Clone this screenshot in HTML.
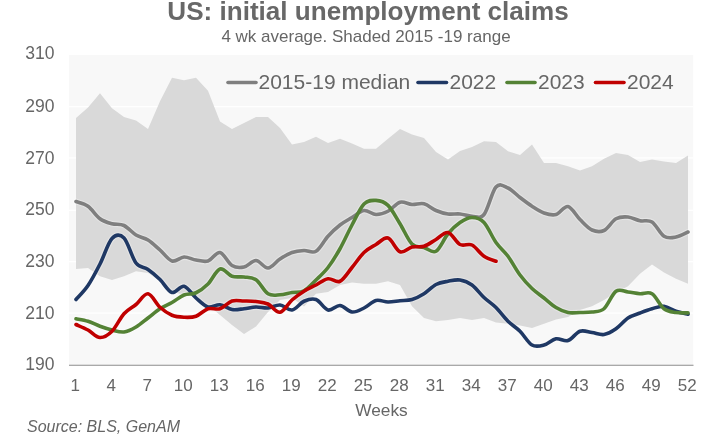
<!DOCTYPE html>
<html><head><meta charset="utf-8"><style>
html,body{margin:0;padding:0;background:#fff;}
body{width:727px;height:444px;overflow:hidden;font-family:"Liberation Sans",sans-serif;}
svg{display:block;will-change:transform;filter:grayscale(0)}
text{font-family:"Liberation Sans",sans-serif;fill:#666666}
.ax{font-size:17px}
.ay{font-size:17.5px}
.lg{font-size:21px}
</style></head><body>
<svg width="727" height="444" viewBox="0 0 727 444">
<rect x="0" y="0" width="727" height="444" fill="#ffffff"/>
<text x="167.3" y="19.5" font-size="25" font-weight="bold" textLength="401.5" style="fill:#686868" lengthAdjust="spacingAndGlyphs">US: initial unemployment claims</text>
<text x="366" y="42.2" text-anchor="middle" font-size="17">4 wk average. Shaded 2015 -19 range</text>
<rect x="68.9" y="55" width="624.3" height="310.3" fill="#f8f8f8"/>
<line x1="69" x2="693" y1="106.60" y2="106.60" stroke="#ffffff" stroke-width="1.2"/><line x1="69" x2="693" y1="157.90" y2="157.90" stroke="#ffffff" stroke-width="1.2"/><line x1="69" x2="693" y1="210.30" y2="210.30" stroke="#ffffff" stroke-width="1.2"/><line x1="69" x2="693" y1="261.60" y2="261.60" stroke="#ffffff" stroke-width="1.2"/><line x1="69" x2="693" y1="313.10" y2="313.10" stroke="#ffffff" stroke-width="1.2"/>
<path d="M76.00,118.00 L88.00,107.50 L100.00,93.25 L112.00,108.25 L124.00,117.00 L136.00,120.50 L148.00,129.00 L160.00,101.25 L172.00,77.75 L184.00,80.25 L196.00,77.75 L208.00,90.75 L220.00,121.50 L232.00,129.00 L244.00,123.00 L256.00,117.00 L268.00,117.00 L280.00,128.00 L292.00,144.50 L304.00,142.00 L316.00,136.75 L328.00,143.00 L340.00,138.75 L352.00,143.50 L364.00,148.75 L376.00,148.75 L388.00,138.75 L400.00,129.00 L412.00,134.50 L424.00,138.00 L436.00,152.00 L448.00,159.50 L460.00,151.00 L472.00,147.00 L484.00,141.25 L496.00,142.00 L508.00,151.25 L520.00,155.00 L532.00,144.50 L544.00,163.00 L556.00,163.00 L568.00,166.25 L580.00,170.50 L592.00,166.25 L604.00,158.75 L616.00,153.00 L628.00,155.00 L640.00,162.00 L652.00,159.50 L664.00,161.50 L676.00,163.00 L688.00,155.50 L688.00,283.75 L676.00,278.75 L664.00,272.50 L652.00,264.50 L640.00,273.75 L628.00,286.25 L616.00,292.50 L604.00,300.00 L592.00,306.25 L580.00,310.00 L568.00,317.00 L556.00,319.50 L544.00,323.75 L532.00,328.00 L520.00,325.50 L508.00,323.75 L496.00,322.50 L484.00,318.00 L472.00,320.00 L460.00,318.00 L448.00,320.00 L436.00,321.25 L424.00,318.00 L412.00,306.25 L400.00,285.00 L388.00,281.25 L376.00,283.75 L364.00,283.75 L352.00,282.50 L340.00,285.00 L328.00,292.00 L316.00,293.75 L304.00,306.50 L292.00,298.00 L280.00,300.00 L268.00,312.00 L256.00,326.50 L244.00,334.00 L232.00,325.00 L220.00,315.00 L208.00,305.00 L196.00,297.00 L184.00,294.50 L172.00,292.00 L160.00,281.00 L148.00,273.00 L136.00,271.25 L124.00,276.25 L112.00,280.00 L100.00,276.25 L88.00,268.00 L76.00,269.00 Z" fill="#d9d9d9"/>
<line x1="69" x2="693.5" y1="365.3" y2="365.3" stroke="#8c8c8c" stroke-width="1.1"/>
<g fill="none" stroke-width="5.8" stroke-linecap="round" stroke-linejoin="round" stroke="#ffffff" opacity="0.3">
<path d="M76.00,201.50 C78.00,202.29 84.00,203.38 88.00,206.25 C92.00,209.12 96.00,215.83 100.00,218.75 C104.00,221.67 108.00,222.62 112.00,223.75 C116.00,224.88 120.00,223.62 124.00,225.50 C128.00,227.38 132.00,232.58 136.00,235.00 C140.00,237.42 144.00,237.50 148.00,240.00 C152.00,242.50 156.00,246.50 160.00,250.00 C164.00,253.50 168.00,259.83 172.00,261.00 C176.00,262.17 180.00,257.17 184.00,257.00 C188.00,256.83 192.00,259.33 196.00,260.00 C200.00,260.67 204.00,262.25 208.00,261.00 C212.00,259.75 216.00,251.75 220.00,252.50 C224.00,253.25 228.00,263.08 232.00,265.50 C236.00,267.92 240.00,267.83 244.00,267.00 C248.00,266.17 252.00,260.33 256.00,260.50 C260.00,260.67 264.00,268.25 268.00,268.00 C272.00,267.75 276.00,261.58 280.00,259.00 C284.00,256.42 288.00,253.92 292.00,252.50 C296.00,251.08 300.00,250.71 304.00,250.50 C308.00,250.29 312.00,253.62 316.00,251.25 C320.00,248.88 324.00,240.62 328.00,236.25 C332.00,231.88 336.00,228.12 340.00,225.00 C344.00,221.88 348.00,219.92 352.00,217.50 C356.00,215.08 360.00,211.00 364.00,210.50 C368.00,210.00 372.00,214.38 376.00,214.50 C380.00,214.62 384.00,213.29 388.00,211.25 C392.00,209.21 396.00,203.38 400.00,202.25 C404.00,201.12 408.00,204.25 412.00,204.50 C416.00,204.75 420.00,202.75 424.00,203.75 C428.00,204.75 432.00,208.79 436.00,210.50 C440.00,212.21 444.00,213.42 448.00,214.00 C452.00,214.58 456.00,213.62 460.00,214.00 C464.00,214.38 468.00,216.17 472.00,216.25 C476.00,216.33 480.00,219.38 484.00,214.50 C488.00,209.62 492.00,191.42 496.00,187.00 C500.00,182.58 504.00,186.25 508.00,188.00 C512.00,189.75 516.00,194.46 520.00,197.50 C524.00,200.54 528.00,203.67 532.00,206.25 C536.00,208.83 540.00,211.62 544.00,213.00 C548.00,214.38 552.00,215.58 556.00,214.50 C560.00,213.42 564.00,205.67 568.00,206.50 C572.00,207.33 576.00,215.58 580.00,219.50 C584.00,223.42 588.00,228.17 592.00,230.00 C596.00,231.83 600.00,232.38 604.00,230.50 C608.00,228.62 612.00,221.00 616.00,218.75 C620.00,216.50 624.00,216.67 628.00,217.00 C632.00,217.33 636.00,219.92 640.00,220.75 C644.00,221.58 648.00,219.42 652.00,222.00 C656.00,224.58 660.00,233.75 664.00,236.25 C668.00,238.75 672.00,237.71 676.00,237.00 C680.00,236.29 686.00,232.83 688.00,232.00"/><path d="M76.00,299.50 C78.00,297.17 84.00,291.42 88.00,285.50 C92.00,279.58 96.00,271.83 100.00,264.00 C104.00,256.17 108.00,242.83 112.00,238.50 C116.00,234.17 120.00,233.92 124.00,238.00 C128.00,242.08 132.00,257.75 136.00,263.00 C140.00,268.25 144.00,266.75 148.00,269.50 C152.00,272.25 156.00,275.67 160.00,279.50 C164.00,283.33 168.00,291.38 172.00,292.50 C176.00,293.62 180.00,285.33 184.00,286.25 C188.00,287.17 192.00,294.54 196.00,298.00 C200.00,301.46 204.00,305.88 208.00,307.00 C212.00,308.12 216.00,304.33 220.00,304.75 C224.00,305.17 228.00,308.83 232.00,309.50 C236.00,310.17 240.00,309.17 244.00,308.75 C248.00,308.33 252.00,307.12 256.00,307.00 C260.00,306.88 264.00,308.33 268.00,308.00 C272.00,307.67 276.00,304.67 280.00,305.00 C284.00,305.33 288.00,310.62 292.00,310.00 C296.00,309.38 300.00,303.00 304.00,301.25 C308.00,299.50 312.00,298.04 316.00,299.50 C320.00,300.96 324.00,309.00 328.00,310.00 C332.00,311.00 336.00,305.17 340.00,305.50 C344.00,305.83 348.00,311.58 352.00,312.00 C356.00,312.42 360.00,309.92 364.00,308.00 C368.00,306.08 372.00,301.50 376.00,300.50 C380.00,299.50 384.00,301.96 388.00,302.00 C392.00,302.04 396.00,301.17 400.00,300.75 C404.00,300.33 408.00,300.67 412.00,299.50 C416.00,298.33 420.00,296.25 424.00,293.75 C428.00,291.25 432.00,286.58 436.00,284.50 C440.00,282.42 444.00,282.00 448.00,281.25 C452.00,280.50 456.00,279.38 460.00,280.00 C464.00,280.62 468.00,282.08 472.00,285.00 C476.00,287.92 480.00,293.75 484.00,297.50 C488.00,301.25 492.00,303.54 496.00,307.50 C500.00,311.46 504.00,317.29 508.00,321.25 C512.00,325.21 516.00,327.29 520.00,331.25 C524.00,335.21 528.00,342.71 532.00,345.00 C536.00,347.29 540.00,346.04 544.00,345.00 C548.00,343.96 552.00,339.50 556.00,338.75 C560.00,338.00 564.00,341.75 568.00,340.50 C572.00,339.25 576.00,332.58 580.00,331.25 C584.00,329.92 588.00,331.96 592.00,332.50 C596.00,333.04 600.00,335.12 604.00,334.50 C608.00,333.88 612.00,331.50 616.00,328.75 C620.00,326.00 624.00,320.62 628.00,318.00 C632.00,315.38 636.00,314.54 640.00,313.00 C644.00,311.46 648.00,309.88 652.00,308.75 C656.00,307.62 660.00,305.83 664.00,306.25 C668.00,306.67 672.00,309.93 676.00,311.25 C680.00,312.57 686.00,313.71 688.00,314.20"/><path d="M76.00,318.75 C78.00,319.17 84.00,320.00 88.00,321.25 C92.00,322.50 96.00,324.79 100.00,326.25 C104.00,327.71 108.00,329.04 112.00,330.00 C116.00,330.96 120.00,332.50 124.00,332.00 C128.00,331.50 132.00,329.33 136.00,327.00 C140.00,324.67 144.00,321.04 148.00,318.00 C152.00,314.96 156.00,311.33 160.00,308.75 C164.00,306.17 168.00,304.79 172.00,302.50 C176.00,300.21 180.00,296.62 184.00,295.00 C188.00,293.38 192.00,294.58 196.00,292.75 C200.00,290.92 204.00,287.96 208.00,284.00 C212.00,280.04 216.00,270.29 220.00,269.00 C224.00,267.71 228.00,274.92 232.00,276.25 C236.00,277.58 240.00,276.42 244.00,277.00 C248.00,277.58 252.00,276.96 256.00,279.75 C260.00,282.54 264.00,291.25 268.00,293.75 C272.00,296.25 276.00,294.96 280.00,294.75 C284.00,294.54 288.00,293.17 292.00,292.50 C296.00,291.83 300.00,292.83 304.00,290.75 C308.00,288.67 312.00,283.88 316.00,280.00 C320.00,276.12 324.00,272.71 328.00,267.50 C332.00,262.29 336.00,255.83 340.00,248.75 C344.00,241.67 348.00,232.46 352.00,225.00 C356.00,217.54 360.00,208.10 364.00,204.00 C368.00,199.90 372.00,200.17 376.00,200.40 C380.00,200.63 384.00,201.51 388.00,205.40 C392.00,209.29 396.00,217.32 400.00,223.75 C404.00,230.18 408.00,240.04 412.00,244.00 C416.00,247.96 420.00,246.29 424.00,247.50 C428.00,248.71 432.00,253.54 436.00,251.25 C440.00,248.96 444.00,238.54 448.00,233.75 C452.00,228.96 456.00,225.21 460.00,222.50 C464.00,219.79 468.00,217.50 472.00,217.50 C476.00,217.50 480.00,218.33 484.00,222.50 C488.00,226.67 492.00,236.88 496.00,242.50 C500.00,248.12 504.00,250.83 508.00,256.25 C512.00,261.67 516.00,269.62 520.00,275.00 C524.00,280.38 528.00,284.67 532.00,288.50 C536.00,292.33 540.00,294.83 544.00,298.00 C548.00,301.17 552.00,305.08 556.00,307.50 C560.00,309.92 564.00,311.67 568.00,312.50 C572.00,313.33 576.00,312.58 580.00,312.50 C584.00,312.42 588.00,312.62 592.00,312.00 C596.00,311.38 600.00,312.21 604.00,308.75 C608.00,305.29 612.00,294.04 616.00,291.25 C620.00,288.46 624.00,291.58 628.00,292.00 C632.00,292.42 636.00,293.46 640.00,293.75 C644.00,294.04 648.00,291.25 652.00,293.75 C656.00,296.25 660.00,305.62 664.00,308.75 C668.00,311.88 672.00,311.81 676.00,312.50 C680.00,313.19 686.00,312.83 688.00,312.90"/><path d="M76.00,324.50 C78.00,325.42 84.00,327.83 88.00,330.00 C92.00,332.17 96.00,337.29 100.00,337.50 C104.00,337.71 108.00,335.21 112.00,331.25 C116.00,327.29 120.00,318.21 124.00,313.75 C128.00,309.29 132.00,307.83 136.00,304.50 C140.00,301.17 144.00,293.29 148.00,293.75 C152.00,294.21 156.00,303.67 160.00,307.25 C164.00,310.83 168.00,313.58 172.00,315.25 C176.00,316.92 180.00,317.08 184.00,317.25 C188.00,317.42 192.00,317.67 196.00,316.25 C200.00,314.83 204.00,310.00 208.00,308.75 C212.00,307.50 216.00,310.04 220.00,308.75 C224.00,307.46 228.00,302.29 232.00,301.00 C236.00,299.71 240.00,300.92 244.00,301.00 C248.00,301.08 252.00,301.00 256.00,301.50 C260.00,302.00 264.00,302.21 268.00,304.00 C272.00,305.79 276.00,312.92 280.00,312.25 C284.00,311.58 288.00,303.50 292.00,300.00 C296.00,296.50 300.00,293.75 304.00,291.25 C308.00,288.75 312.00,287.08 316.00,285.00 C320.00,282.92 324.00,279.38 328.00,278.75 C332.00,278.12 336.00,283.12 340.00,281.25 C344.00,279.38 348.00,272.29 352.00,267.50 C356.00,262.71 360.00,256.33 364.00,252.50 C368.00,248.67 372.00,246.92 376.00,244.50 C380.00,242.08 384.00,236.79 388.00,238.00 C392.00,239.21 396.00,250.25 400.00,251.75 C404.00,253.25 408.00,247.92 412.00,247.00 C416.00,246.08 420.00,247.50 424.00,246.25 C428.00,245.00 432.00,241.79 436.00,239.50 C440.00,237.21 444.00,231.67 448.00,232.50 C452.00,233.33 456.00,242.42 460.00,244.50 C464.00,246.58 468.00,243.04 472.00,245.00 C476.00,246.96 480.00,253.54 484.00,256.25 C488.00,258.96 494.00,260.42 496.00,261.25"/>
</g>
<g fill="none" stroke-width="3.6" stroke-linecap="round" stroke-linejoin="round">
<path d="M76.00,201.50 C78.00,202.29 84.00,203.38 88.00,206.25 C92.00,209.12 96.00,215.83 100.00,218.75 C104.00,221.67 108.00,222.62 112.00,223.75 C116.00,224.88 120.00,223.62 124.00,225.50 C128.00,227.38 132.00,232.58 136.00,235.00 C140.00,237.42 144.00,237.50 148.00,240.00 C152.00,242.50 156.00,246.50 160.00,250.00 C164.00,253.50 168.00,259.83 172.00,261.00 C176.00,262.17 180.00,257.17 184.00,257.00 C188.00,256.83 192.00,259.33 196.00,260.00 C200.00,260.67 204.00,262.25 208.00,261.00 C212.00,259.75 216.00,251.75 220.00,252.50 C224.00,253.25 228.00,263.08 232.00,265.50 C236.00,267.92 240.00,267.83 244.00,267.00 C248.00,266.17 252.00,260.33 256.00,260.50 C260.00,260.67 264.00,268.25 268.00,268.00 C272.00,267.75 276.00,261.58 280.00,259.00 C284.00,256.42 288.00,253.92 292.00,252.50 C296.00,251.08 300.00,250.71 304.00,250.50 C308.00,250.29 312.00,253.62 316.00,251.25 C320.00,248.88 324.00,240.62 328.00,236.25 C332.00,231.88 336.00,228.12 340.00,225.00 C344.00,221.88 348.00,219.92 352.00,217.50 C356.00,215.08 360.00,211.00 364.00,210.50 C368.00,210.00 372.00,214.38 376.00,214.50 C380.00,214.62 384.00,213.29 388.00,211.25 C392.00,209.21 396.00,203.38 400.00,202.25 C404.00,201.12 408.00,204.25 412.00,204.50 C416.00,204.75 420.00,202.75 424.00,203.75 C428.00,204.75 432.00,208.79 436.00,210.50 C440.00,212.21 444.00,213.42 448.00,214.00 C452.00,214.58 456.00,213.62 460.00,214.00 C464.00,214.38 468.00,216.17 472.00,216.25 C476.00,216.33 480.00,219.38 484.00,214.50 C488.00,209.62 492.00,191.42 496.00,187.00 C500.00,182.58 504.00,186.25 508.00,188.00 C512.00,189.75 516.00,194.46 520.00,197.50 C524.00,200.54 528.00,203.67 532.00,206.25 C536.00,208.83 540.00,211.62 544.00,213.00 C548.00,214.38 552.00,215.58 556.00,214.50 C560.00,213.42 564.00,205.67 568.00,206.50 C572.00,207.33 576.00,215.58 580.00,219.50 C584.00,223.42 588.00,228.17 592.00,230.00 C596.00,231.83 600.00,232.38 604.00,230.50 C608.00,228.62 612.00,221.00 616.00,218.75 C620.00,216.50 624.00,216.67 628.00,217.00 C632.00,217.33 636.00,219.92 640.00,220.75 C644.00,221.58 648.00,219.42 652.00,222.00 C656.00,224.58 660.00,233.75 664.00,236.25 C668.00,238.75 672.00,237.71 676.00,237.00 C680.00,236.29 686.00,232.83 688.00,232.00" stroke="#7f7f7f"/>
<path d="M76.00,299.50 C78.00,297.17 84.00,291.42 88.00,285.50 C92.00,279.58 96.00,271.83 100.00,264.00 C104.00,256.17 108.00,242.83 112.00,238.50 C116.00,234.17 120.00,233.92 124.00,238.00 C128.00,242.08 132.00,257.75 136.00,263.00 C140.00,268.25 144.00,266.75 148.00,269.50 C152.00,272.25 156.00,275.67 160.00,279.50 C164.00,283.33 168.00,291.38 172.00,292.50 C176.00,293.62 180.00,285.33 184.00,286.25 C188.00,287.17 192.00,294.54 196.00,298.00 C200.00,301.46 204.00,305.88 208.00,307.00 C212.00,308.12 216.00,304.33 220.00,304.75 C224.00,305.17 228.00,308.83 232.00,309.50 C236.00,310.17 240.00,309.17 244.00,308.75 C248.00,308.33 252.00,307.12 256.00,307.00 C260.00,306.88 264.00,308.33 268.00,308.00 C272.00,307.67 276.00,304.67 280.00,305.00 C284.00,305.33 288.00,310.62 292.00,310.00 C296.00,309.38 300.00,303.00 304.00,301.25 C308.00,299.50 312.00,298.04 316.00,299.50 C320.00,300.96 324.00,309.00 328.00,310.00 C332.00,311.00 336.00,305.17 340.00,305.50 C344.00,305.83 348.00,311.58 352.00,312.00 C356.00,312.42 360.00,309.92 364.00,308.00 C368.00,306.08 372.00,301.50 376.00,300.50 C380.00,299.50 384.00,301.96 388.00,302.00 C392.00,302.04 396.00,301.17 400.00,300.75 C404.00,300.33 408.00,300.67 412.00,299.50 C416.00,298.33 420.00,296.25 424.00,293.75 C428.00,291.25 432.00,286.58 436.00,284.50 C440.00,282.42 444.00,282.00 448.00,281.25 C452.00,280.50 456.00,279.38 460.00,280.00 C464.00,280.62 468.00,282.08 472.00,285.00 C476.00,287.92 480.00,293.75 484.00,297.50 C488.00,301.25 492.00,303.54 496.00,307.50 C500.00,311.46 504.00,317.29 508.00,321.25 C512.00,325.21 516.00,327.29 520.00,331.25 C524.00,335.21 528.00,342.71 532.00,345.00 C536.00,347.29 540.00,346.04 544.00,345.00 C548.00,343.96 552.00,339.50 556.00,338.75 C560.00,338.00 564.00,341.75 568.00,340.50 C572.00,339.25 576.00,332.58 580.00,331.25 C584.00,329.92 588.00,331.96 592.00,332.50 C596.00,333.04 600.00,335.12 604.00,334.50 C608.00,333.88 612.00,331.50 616.00,328.75 C620.00,326.00 624.00,320.62 628.00,318.00 C632.00,315.38 636.00,314.54 640.00,313.00 C644.00,311.46 648.00,309.88 652.00,308.75 C656.00,307.62 660.00,305.83 664.00,306.25 C668.00,306.67 672.00,309.93 676.00,311.25 C680.00,312.57 686.00,313.71 688.00,314.20" stroke="#1f3864"/>
<path d="M76.00,318.75 C78.00,319.17 84.00,320.00 88.00,321.25 C92.00,322.50 96.00,324.79 100.00,326.25 C104.00,327.71 108.00,329.04 112.00,330.00 C116.00,330.96 120.00,332.50 124.00,332.00 C128.00,331.50 132.00,329.33 136.00,327.00 C140.00,324.67 144.00,321.04 148.00,318.00 C152.00,314.96 156.00,311.33 160.00,308.75 C164.00,306.17 168.00,304.79 172.00,302.50 C176.00,300.21 180.00,296.62 184.00,295.00 C188.00,293.38 192.00,294.58 196.00,292.75 C200.00,290.92 204.00,287.96 208.00,284.00 C212.00,280.04 216.00,270.29 220.00,269.00 C224.00,267.71 228.00,274.92 232.00,276.25 C236.00,277.58 240.00,276.42 244.00,277.00 C248.00,277.58 252.00,276.96 256.00,279.75 C260.00,282.54 264.00,291.25 268.00,293.75 C272.00,296.25 276.00,294.96 280.00,294.75 C284.00,294.54 288.00,293.17 292.00,292.50 C296.00,291.83 300.00,292.83 304.00,290.75 C308.00,288.67 312.00,283.88 316.00,280.00 C320.00,276.12 324.00,272.71 328.00,267.50 C332.00,262.29 336.00,255.83 340.00,248.75 C344.00,241.67 348.00,232.46 352.00,225.00 C356.00,217.54 360.00,208.10 364.00,204.00 C368.00,199.90 372.00,200.17 376.00,200.40 C380.00,200.63 384.00,201.51 388.00,205.40 C392.00,209.29 396.00,217.32 400.00,223.75 C404.00,230.18 408.00,240.04 412.00,244.00 C416.00,247.96 420.00,246.29 424.00,247.50 C428.00,248.71 432.00,253.54 436.00,251.25 C440.00,248.96 444.00,238.54 448.00,233.75 C452.00,228.96 456.00,225.21 460.00,222.50 C464.00,219.79 468.00,217.50 472.00,217.50 C476.00,217.50 480.00,218.33 484.00,222.50 C488.00,226.67 492.00,236.88 496.00,242.50 C500.00,248.12 504.00,250.83 508.00,256.25 C512.00,261.67 516.00,269.62 520.00,275.00 C524.00,280.38 528.00,284.67 532.00,288.50 C536.00,292.33 540.00,294.83 544.00,298.00 C548.00,301.17 552.00,305.08 556.00,307.50 C560.00,309.92 564.00,311.67 568.00,312.50 C572.00,313.33 576.00,312.58 580.00,312.50 C584.00,312.42 588.00,312.62 592.00,312.00 C596.00,311.38 600.00,312.21 604.00,308.75 C608.00,305.29 612.00,294.04 616.00,291.25 C620.00,288.46 624.00,291.58 628.00,292.00 C632.00,292.42 636.00,293.46 640.00,293.75 C644.00,294.04 648.00,291.25 652.00,293.75 C656.00,296.25 660.00,305.62 664.00,308.75 C668.00,311.88 672.00,311.81 676.00,312.50 C680.00,313.19 686.00,312.83 688.00,312.90" stroke="#548235"/>
<path d="M76.00,324.50 C78.00,325.42 84.00,327.83 88.00,330.00 C92.00,332.17 96.00,337.29 100.00,337.50 C104.00,337.71 108.00,335.21 112.00,331.25 C116.00,327.29 120.00,318.21 124.00,313.75 C128.00,309.29 132.00,307.83 136.00,304.50 C140.00,301.17 144.00,293.29 148.00,293.75 C152.00,294.21 156.00,303.67 160.00,307.25 C164.00,310.83 168.00,313.58 172.00,315.25 C176.00,316.92 180.00,317.08 184.00,317.25 C188.00,317.42 192.00,317.67 196.00,316.25 C200.00,314.83 204.00,310.00 208.00,308.75 C212.00,307.50 216.00,310.04 220.00,308.75 C224.00,307.46 228.00,302.29 232.00,301.00 C236.00,299.71 240.00,300.92 244.00,301.00 C248.00,301.08 252.00,301.00 256.00,301.50 C260.00,302.00 264.00,302.21 268.00,304.00 C272.00,305.79 276.00,312.92 280.00,312.25 C284.00,311.58 288.00,303.50 292.00,300.00 C296.00,296.50 300.00,293.75 304.00,291.25 C308.00,288.75 312.00,287.08 316.00,285.00 C320.00,282.92 324.00,279.38 328.00,278.75 C332.00,278.12 336.00,283.12 340.00,281.25 C344.00,279.38 348.00,272.29 352.00,267.50 C356.00,262.71 360.00,256.33 364.00,252.50 C368.00,248.67 372.00,246.92 376.00,244.50 C380.00,242.08 384.00,236.79 388.00,238.00 C392.00,239.21 396.00,250.25 400.00,251.75 C404.00,253.25 408.00,247.92 412.00,247.00 C416.00,246.08 420.00,247.50 424.00,246.25 C428.00,245.00 432.00,241.79 436.00,239.50 C440.00,237.21 444.00,231.67 448.00,232.50 C452.00,233.33 456.00,242.42 460.00,244.50 C464.00,246.58 468.00,243.04 472.00,245.00 C476.00,246.96 480.00,253.54 484.00,256.25 C488.00,258.96 494.00,260.42 496.00,261.25" stroke="#c00000"/>
<line x1="228" x2="256" y1="82.5" y2="82.5" stroke="#7f7f7f"/>
<line x1="418" x2="446.5" y1="82.5" y2="82.5" stroke="#1f3864"/>
<line x1="507" x2="535" y1="82.5" y2="82.5" stroke="#548235"/>
<line x1="595.5" x2="624" y1="82.5" y2="82.5" stroke="#c00000"/>
</g>
<text x="258.5" y="89.3" class="lg">2015-19 median</text>
<text x="449.5" y="89.3" class="lg">2022</text>
<text x="538" y="89.3" class="lg">2023</text>
<text x="627" y="89.3" class="lg">2024</text>
<text x="54.5" y="59.20" text-anchor="end" class="ay">310</text><text x="54.5" y="111.87" text-anchor="end" class="ay">290</text><text x="54.5" y="163.54" text-anchor="end" class="ay">270</text><text x="54.5" y="215.21" text-anchor="end" class="ay">250</text><text x="54.5" y="266.88" text-anchor="end" class="ay">230</text><text x="54.5" y="318.55" text-anchor="end" class="ay">210</text><text x="54.5" y="370.22" text-anchor="end" class="ay">190</text>
<text x="75.3" y="391" text-anchor="middle" class="ax">1</text><text x="111.3" y="391" text-anchor="middle" class="ax">4</text><text x="147.3" y="391" text-anchor="middle" class="ax">7</text><text x="183.3" y="391" text-anchor="middle" class="ax">10</text><text x="219.3" y="391" text-anchor="middle" class="ax">13</text><text x="255.3" y="391" text-anchor="middle" class="ax">16</text><text x="291.3" y="391" text-anchor="middle" class="ax">19</text><text x="327.3" y="391" text-anchor="middle" class="ax">22</text><text x="363.3" y="391" text-anchor="middle" class="ax">25</text><text x="399.3" y="391" text-anchor="middle" class="ax">28</text><text x="435.3" y="391" text-anchor="middle" class="ax">31</text><text x="471.3" y="391" text-anchor="middle" class="ax">34</text><text x="507.3" y="391" text-anchor="middle" class="ax">37</text><text x="543.3" y="391" text-anchor="middle" class="ax">40</text><text x="579.3" y="391" text-anchor="middle" class="ax">43</text><text x="615.3" y="391" text-anchor="middle" class="ax">46</text><text x="651.3" y="391" text-anchor="middle" class="ax">49</text><text x="687.3" y="391" text-anchor="middle" class="ax">52</text>
<text x="381.5" y="415.5" text-anchor="middle" font-size="17.3">Weeks</text>
<text x="27" y="432" font-size="16" font-style="italic">Source: BLS, GenAM</text>
</svg>
</body></html>
